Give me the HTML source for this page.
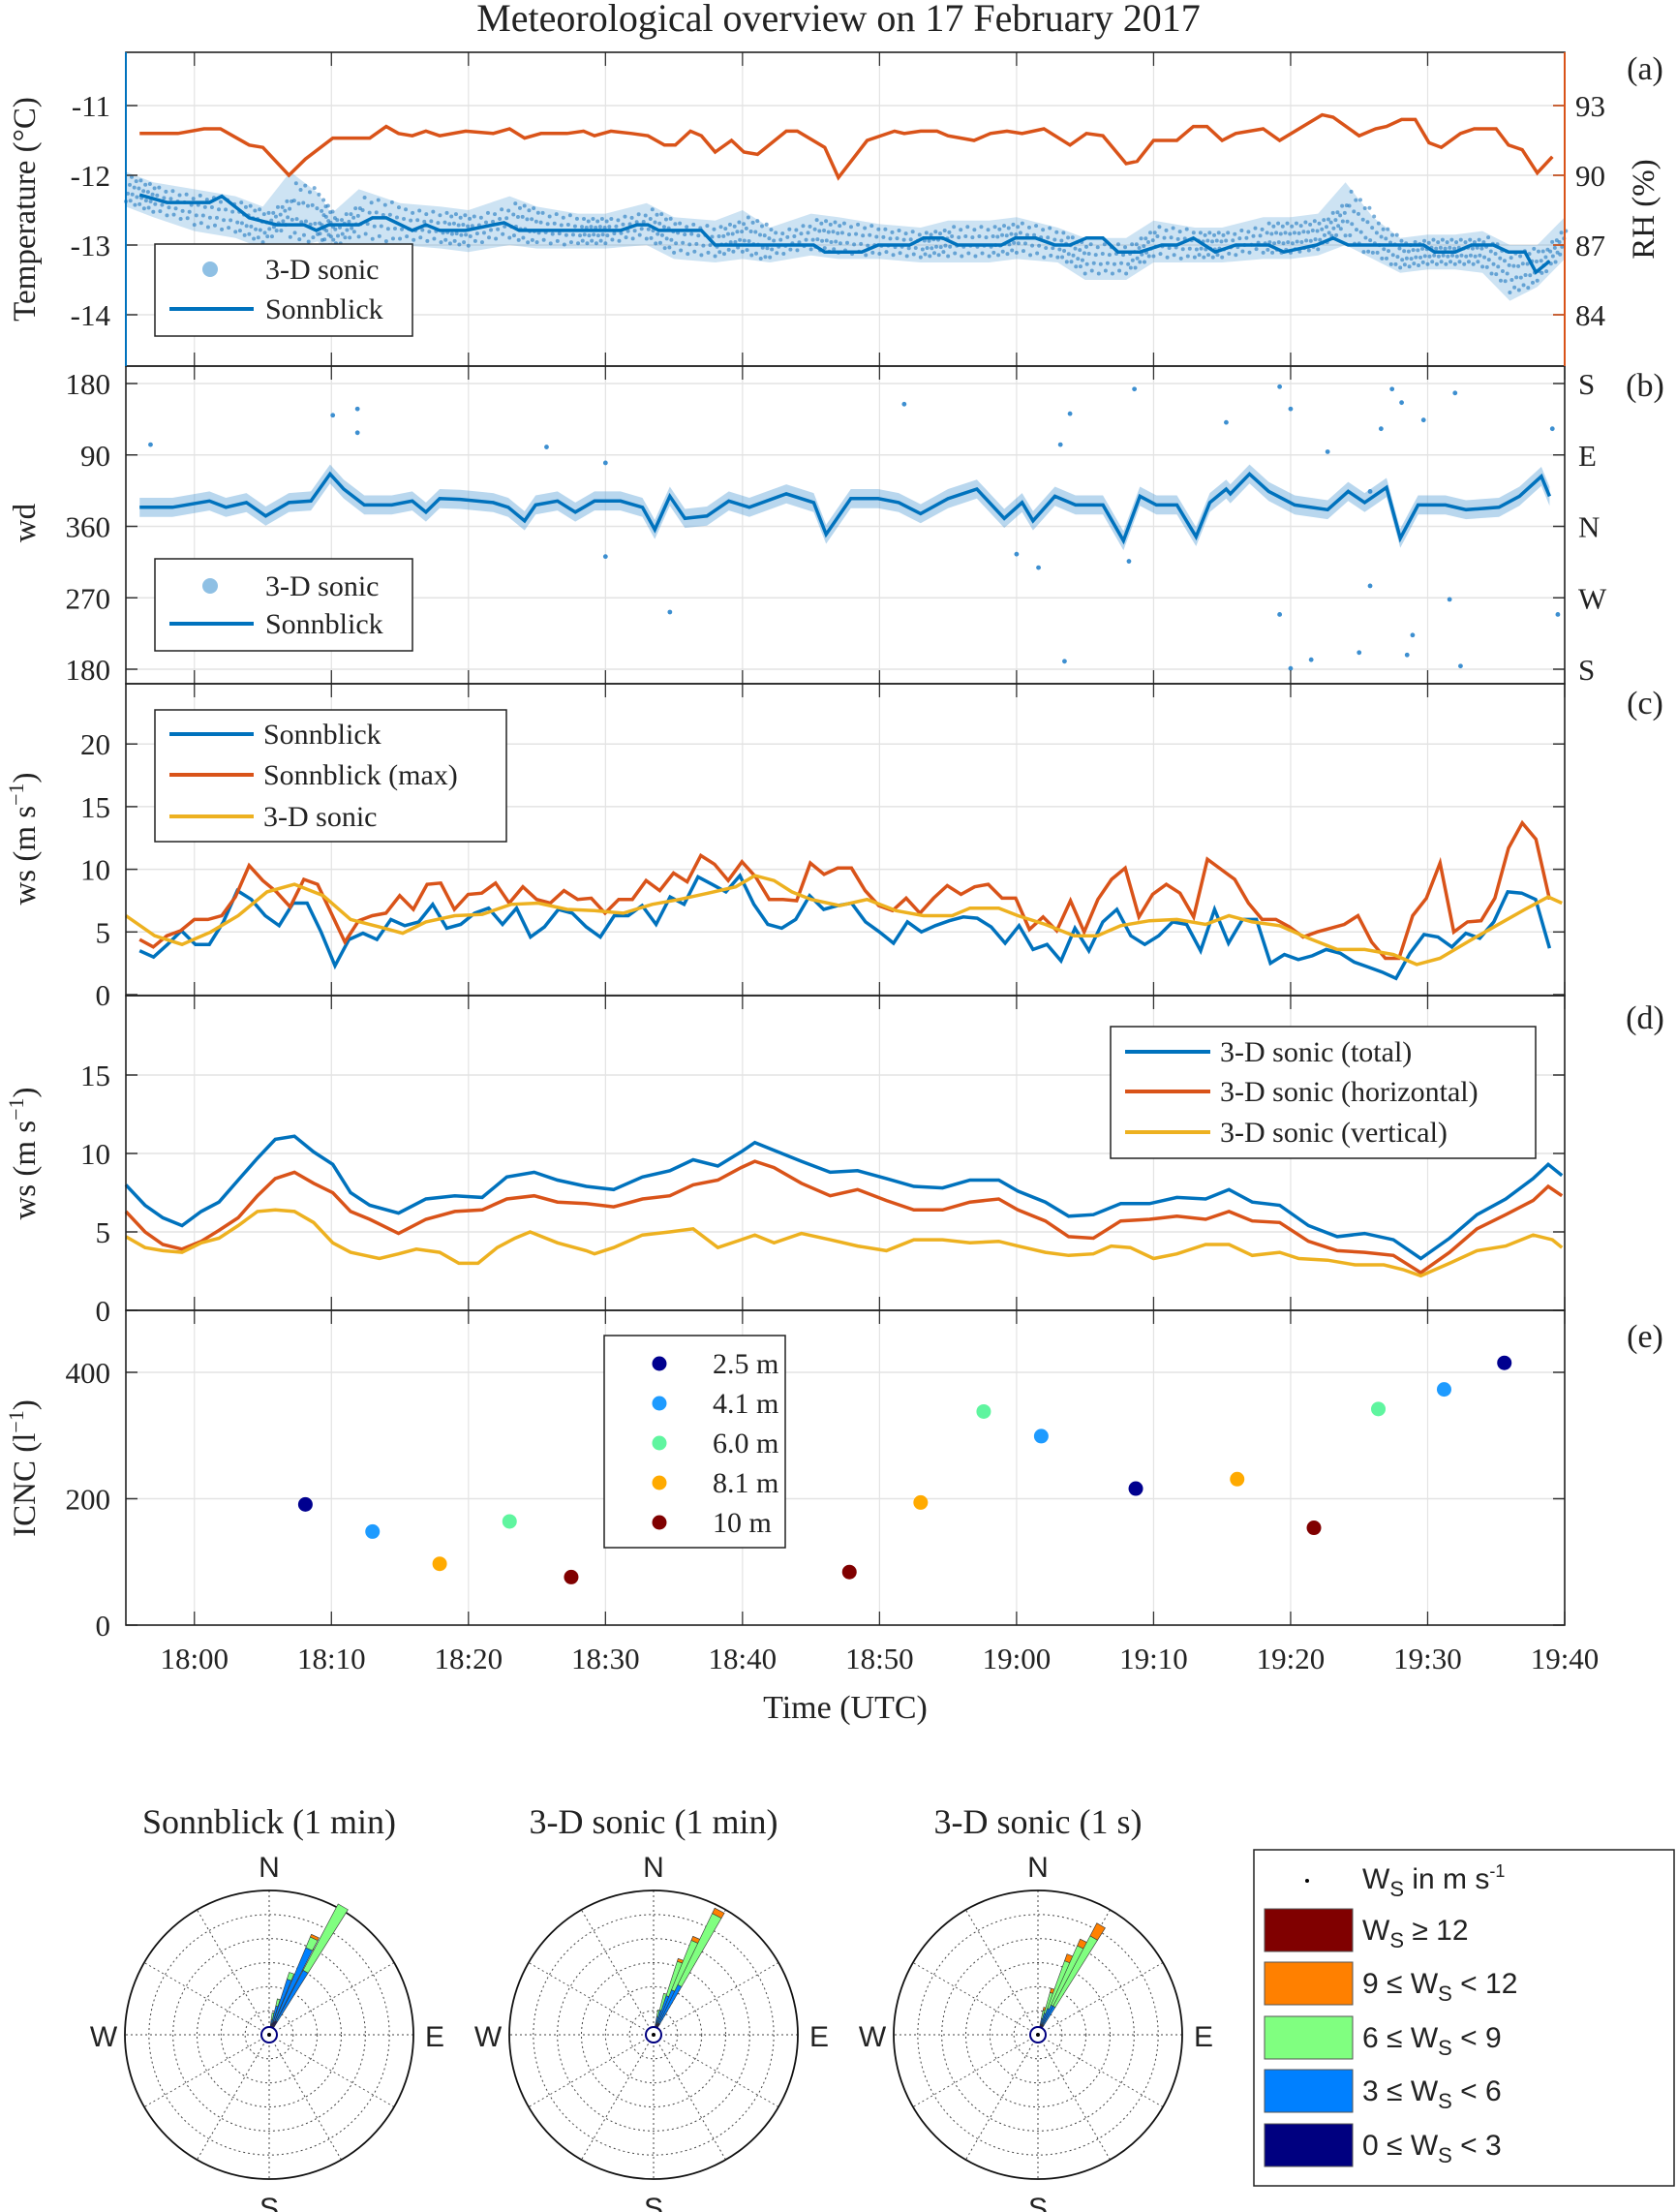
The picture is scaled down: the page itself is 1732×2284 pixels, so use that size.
<!DOCTYPE html>
<html><head><meta charset="utf-8">
<style>
html,body{margin:0;padding:0;background:#fff;}
svg{display:block;}
text{font-family:"Liberation Serif",serif;fill:#222;}
.sans{font-family:"Liberation Sans",sans-serif;}
</style></head>
<body>
<svg id="fig" width="1732" height="2284" viewBox="0 0 1732 2284" xmlns="http://www.w3.org/2000/svg">
<rect width="1732" height="2284" fill="#fff"/>
<text x="866" y="32" font-size="40" text-anchor="middle">Meteorological  overview  on 17 February 2017</text>
<g id="grid"></g>
<g id="marks"></g>
<g id="axes"></g>

<text x="1699" y="82" font-size="34" text-anchor="middle">(a)</text>
<text x="1699" y="409" font-size="34" text-anchor="middle">(b)</text>
<text x="1699" y="737" font-size="34" text-anchor="middle">(c)</text>
<text x="1699" y="1062" font-size="34" text-anchor="middle">(d)</text>
<text x="1699" y="1391" font-size="34" text-anchor="middle">(e)</text>

<text transform="translate(36,216) rotate(-90)" font-size="33" text-anchor="middle">Temperature (°C)</text>
<text transform="translate(1708,216) rotate(-90)" font-size="33" text-anchor="middle">RH (%)</text>
<text transform="translate(36,540) rotate(-90)" font-size="33" text-anchor="middle">wd</text>
<text transform="translate(36,866) rotate(-90)" font-size="33" text-anchor="middle">ws (m s<tspan dy="-12" font-size="22">−1</tspan><tspan dy="12">)</tspan></text>
<text transform="translate(36,1191) rotate(-90)" font-size="33" text-anchor="middle">ws (m s<tspan dy="-12" font-size="22">−1</tspan><tspan dy="12">)</tspan></text>
<text transform="translate(36,1516) rotate(-90)" font-size="33" text-anchor="middle">ICNC (l<tspan dy="-12" font-size="22">−1</tspan><tspan dy="12">)</tspan></text>
<text x="873" y="1774" font-size="34" text-anchor="middle">Time (UTC)</text>

<g>
<rect x="160" y="252" width="266" height="95" fill="#fff" stroke="#222" stroke-width="1.5"/>
<circle cx="217" cy="278" r="8" fill="#8fc0e4"/>
<text x="274" y="288" font-size="30">3-D sonic</text>
<line x1="175" y1="319" x2="262" y2="319" stroke="#0072BD" stroke-width="4"/>
<text x="274" y="329" font-size="30">Sonnblick</text>
</g>
<g>
<rect x="160" y="577" width="266" height="95" fill="#fff" stroke="#222" stroke-width="1.5"/>
<circle cx="217" cy="605" r="8" fill="#8fc0e4"/>
<text x="274" y="615" font-size="30">3-D sonic</text>
<line x1="175" y1="644" x2="262" y2="644" stroke="#0072BD" stroke-width="4"/>
<text x="274" y="654" font-size="30">Sonnblick</text>
</g>
<g>
<rect x="160" y="733" width="363" height="136" fill="#fff" stroke="#222" stroke-width="1.5"/>
<line x1="175" y1="758" x2="262" y2="758" stroke="#0072BD" stroke-width="4"/>
<text x="272" y="768" font-size="30">Sonnblick</text>
<line x1="175" y1="800" x2="262" y2="800" stroke="#D95319" stroke-width="4"/>
<text x="272" y="810" font-size="30">Sonnblick (max)</text>
<line x1="175" y1="843" x2="262" y2="843" stroke="#EDB120" stroke-width="4"/>
<text x="272" y="853" font-size="30">3-D sonic</text>
</g>
<g>
<rect x="1147" y="1060" width="439" height="136" fill="#fff" stroke="#222" stroke-width="1.5"/>
<line x1="1162" y1="1086" x2="1250" y2="1086" stroke="#0072BD" stroke-width="4"/>
<text x="1260" y="1096" font-size="30">3-D sonic (total)</text>
<line x1="1162" y1="1127" x2="1250" y2="1127" stroke="#D95319" stroke-width="4"/>
<text x="1260" y="1137" font-size="30">3-D sonic (horizontal)</text>
<line x1="1162" y1="1169" x2="1250" y2="1169" stroke="#EDB120" stroke-width="4"/>
<text x="1260" y="1179" font-size="30">3-D sonic (vertical)</text>
</g>
<g>
<rect x="624" y="1379" width="187" height="219" fill="#fff" stroke="#222" stroke-width="1.5"/>
<circle cx="681" cy="1408" r="7.5" fill="#00008F"/>
<text x="736" y="1418" font-size="30">2.5 m</text>
<circle cx="681" cy="1449" r="7.5" fill="#1E9BFF"/>
<text x="736" y="1459" font-size="30">4.1 m</text>
<circle cx="681" cy="1490" r="7.5" fill="#5FF59F"/>
<text x="736" y="1500" font-size="30">6.0 m</text>
<circle cx="681" cy="1531" r="7.5" fill="#FFAA00"/>
<text x="736" y="1541" font-size="30">8.1 m</text>
<circle cx="681" cy="1572" r="7.5" fill="#800000"/>
<text x="736" y="1582" font-size="30">10 m</text>
</g>

<text x="278" y="1893" font-size="36" text-anchor="middle">Sonnblick (1 min)</text>
<text x="675" y="1893" font-size="36" text-anchor="middle">3-D sonic (1 min)</text>
<text x="1072" y="1893" font-size="36" text-anchor="middle">3-D sonic (1 s)</text>
<g id="roses"></g>

<g>
<rect x="1295" y="1910" width="434" height="347" fill="#fff" stroke="#222" stroke-width="1.5"/>
<circle cx="1350" cy="1942" r="2" fill="#000"/>
<text class="sans" x="1407" y="1950" font-size="30">W<tspan dy="8" font-size="22">S</tspan><tspan dy="-8"> in m s</tspan><tspan dy="-12" font-size="18">-1</tspan></text>
<rect x="1306" y="1971" width="91" height="44" fill="#800000" stroke="#555"/>
<text class="sans" x="1407" y="2003" font-size="30">W<tspan dy="8" font-size="22">S</tspan><tspan dy="-8"> ≥ 12</tspan></text>
<rect x="1306" y="2026" width="91" height="44" fill="#FF8000" stroke="#555"/>
<text class="sans" x="1407" y="2058" font-size="30">9 ≤ W<tspan dy="8" font-size="22">S</tspan><tspan dy="-8"> &lt; 12</tspan></text>
<rect x="1306" y="2082" width="91" height="44" fill="#80FF80" stroke="#555"/>
<text class="sans" x="1407" y="2114" font-size="30">6 ≤ W<tspan dy="8" font-size="22">S</tspan><tspan dy="-8"> &lt; 9</tspan></text>
<rect x="1306" y="2137" width="91" height="44" fill="#0080FF" stroke="#555"/>
<text class="sans" x="1407" y="2169" font-size="30">3 ≤ W<tspan dy="8" font-size="22">S</tspan><tspan dy="-8"> &lt; 6</tspan></text>
<rect x="1306" y="2193" width="91" height="44" fill="#000080" stroke="#555"/>
<text class="sans" x="1407" y="2225" font-size="30">0 ≤ W<tspan dy="8" font-size="22">S</tspan><tspan dy="-8"> &lt; 3</tspan></text>
</g>
</svg>

<script>
const tickLabels = ["18:00","18:10","18:20","18:30","18:40","18:50","19:00","19:10","19:20","19:30","19:40"];
const tickTimes = [0,10,20,30,40,50,60,70,80,90,100];

const tempTicks = [-11,-12,-13,-14];
const rhTicks = [84,87,90,93];
const sbTempTime = [-4.0,-2.0,1.1,2.0,4.0,6.0,8.0,8.9,9.8,12.0,13.0,14.0,15.9,16.9,17.9,19.8,21.8,22.6,23.7,31.1,32.3,33.1,33.9,37.0,38.0,45.2,46.0,48.7,49.9,52.2,53.2,54.6,55.7,58.9,59.9,61.4,62.8,63.9,65.1,66.3,67.4,69.0,70.6,71.7,72.9,74.5,76.0,78.4,79.5,81.9,83.1,84.2,89.7,90.5,92.0,93.2,94.8,95.9,97.1,97.9,98.9];
const sbTemp = [-12.28,-12.39,-12.39,-12.30,-12.61,-12.71,-12.71,-12.79,-12.71,-12.71,-12.61,-12.61,-12.79,-12.71,-12.79,-12.79,-12.71,-12.68,-12.79,-12.79,-12.71,-12.71,-12.79,-12.79,-13.0,-13.0,-13.1,-13.1,-13.0,-13.0,-12.9,-12.9,-13.0,-13.0,-12.9,-12.9,-13.0,-13.0,-12.9,-12.9,-13.1,-13.1,-13.0,-13.0,-12.9,-13.1,-13.0,-13.0,-13.1,-13.0,-12.9,-13.0,-13.0,-13.1,-13.1,-13.0,-13.0,-13.1,-13.1,-13.39,-13.23];
const rhTime = [-4.0,-1.2,0.7,1.9,4.0,5.0,6.9,8.1,10.1,12.8,14.0,14.9,15.9,16.9,17.9,19.8,21.8,23.0,24.1,25.3,27.2,28.4,29.2,30.4,31.9,33.1,34.3,35.1,36.2,37.0,38.0,39.2,40.1,41.1,43.2,44.0,46.0,47.0,49.1,51.1,51.8,53.0,54.2,55.0,56.9,58.1,59.3,60.4,62.0,63.9,65.1,66.3,68.0,68.8,70.0,71.7,72.9,73.9,75.0,76.0,78.0,79.2,82.3,83.1,85.0,86.2,87.0,88.1,89.1,90.1,91.0,92.4,93.4,95.0,95.9,96.9,98.0,99.1];
const rhValues = [91.8,91.8,92.0,92.0,91.3,91.2,90.0,90.7,91.6,91.6,92.1,91.8,91.7,91.9,91.7,91.9,91.8,92.0,91.6,91.8,91.8,91.9,91.7,91.9,91.8,91.7,91.3,91.3,91.9,91.7,91.0,91.5,91.0,90.9,91.9,91.9,91.2,89.9,91.5,91.9,91.8,91.9,91.9,91.7,91.5,91.8,91.9,91.8,92.0,91.3,91.8,91.7,90.5,90.6,91.5,91.5,92.1,92.1,91.5,91.8,92.0,91.5,92.6,92.5,91.7,92.0,92.1,92.4,92.4,91.4,91.2,91.8,92.0,92.0,91.3,91.1,90.1,90.8];
const sonicTempTime = [-5,-3,0,3,5,7,9,10,12,15,18,20,23,25,28,30,33,35,38,40,42,45,47,50,53,55,58,60,63,65,68,70,73,75,78,80,82,84,86,88,90,92,94,96,98,100];
const sonicTemp = [-12.2,-12.35,-12.5,-12.6,-12.75,-12.5,-12.6,-12.85,-12.6,-12.7,-12.75,-12.8,-12.65,-12.75,-12.8,-12.8,-12.7,-12.9,-12.95,-12.85,-13.0,-12.85,-12.9,-12.95,-13.0,-12.95,-12.95,-12.9,-13.0,-13.2,-13.2,-12.95,-13.0,-13.0,-12.9,-12.9,-12.85,-12.55,-12.9,-13.15,-13.1,-13.1,-13.1,-13.4,-13.3,-12.9];
const sonicTempSpread = [0.25,0.25,0.3,0.3,0.3,0.55,0.35,0.3,0.4,0.3,0.3,0.3,0.35,0.3,0.25,0.25,0.3,0.3,0.3,0.35,0.25,0.3,0.3,0.25,0.25,0.3,0.3,0.3,0.25,0.3,0.3,0.3,0.25,0.25,0.3,0.3,0.3,0.45,0.3,0.25,0.25,0.25,0.3,0.4,0.3,0.3];

const dirTicks = [540,450,360,270,180];
const dirTickLabels = ["180","90","360","270","180"];
const dirLetters = ["S","E","N","W","S"];
const sbDirTime = [-4.0,-1.6,1.1,2.3,3.8,5.2,6.9,8.5,9.9,10.9,12.4,14.4,15.9,16.9,17.9,19.4,21.8,22.9,24.1,24.9,26.5,27.8,29.2,31.1,32.7,33.6,34.7,35.8,37.4,39.0,40.5,43.2,45.2,46.1,47.9,49.9,51.4,53.0,55.0,57.1,59.1,60.4,61.2,62.8,64.3,66.3,67.8,69.0,70.2,71.7,73.1,74.1,75.3,75.6,77.0,78.4,80.3,82.7,84.2,85.4,87.0,88.0,89.3,91.3,92.8,95.2,96.7,98.3,98.9];
const sbDir = [384,384,392,384,390,373,390,392,426,407,387,387,392,378,395,394,390,384,367,387,392,378,392,392,384,356,398,370,373,392,384,401,390,350,395,395,390,376,395,407,370,390,367,398,387,387,342,398,387,387,347,390,407,401,426,404,387,381,404,390,409,345,387,387,381,384,398,423,398];
const sonicDirOutT = [-3.2,10.1,11.9,11.9,25.7,30.0,30.0,34.7,51.8,60.0,61.6,63.2,63.5,63.9,68.2,68.6,75.3,79.2,79.2,80.0,80.0,81.5,82.7,85.0,85.8,85.8,86.6,87.4,88.1,88.5,88.9,89.7,91.6,92.0,92.4,99.1,99.5];
const sonicDirOutD = [463,500,508,478,460,440,322,252,514,325,308,463,190,502,316,533,491,536,249,508,181,192,454,201,285,404,483,533,516,198,223,494,268,528,184,483,249];

const cTicks = [0,5,10,15,20];
const sbWs = [3.5,3.0,4.0,5.1,4.0,4.0,5.8,8.3,7.6,6.3,5.5,7.3,7.3,5.0,2.3,4.4,4.9,4.4,6.0,5.5,5.8,7.2,5.3,5.6,6.5,6.9,5.6,6.9,4.6,5.4,6.8,6.5,5.4,4.6,6.3,6.3,7.1,5.6,7.8,7.2,9.4,8.8,8.2,9.5,7.2,5.6,5.3,6.0,7.9,6.8,7.1,7.3,5.8,5.0,4.1,5.8,5.0,5.5,5.9,6.2,6.1,5.4,4.1,5.5,3.6,4.0,2.7,5.3,3.5,5.8,6.8,4.7,4.0,4.7,5.8,5.6,3.5,6.8,4.1,6.0,6.0,2.5,3.2,2.8,3.1,3.6,3.3,2.6,2.2,1.8,1.3,3.3,4.8,4.6,3.8,4.9,4.5,5.8,8.2,8.1,7.6,3.7];
const sbWsMax = [4.4,3.8,4.7,5.1,6.0,6.0,6.3,7.8,10.3,9.1,8.2,7.0,9.2,8.8,6.5,4.2,5.9,6.3,6.5,7.9,6.8,8.8,8.9,6.8,8.0,8.1,8.9,7.3,8.6,7.6,7.3,8.3,7.6,7.7,6.5,7.6,7.6,9.1,8.3,9.7,9.0,11.1,10.4,9.1,10.6,9.4,7.6,7.6,7.5,10.5,9.6,10.1,10.1,8.3,7.1,6.7,7.7,6.5,7.7,8.7,8.0,8.6,8.8,7.7,7.7,5.2,6.2,5.1,7.5,5.0,7.6,9.2,10.1,6.2,8.0,8.8,8.1,6.2,10.8,10.0,9.2,7.3,6.0,6.0,5.4,4.6,5.0,5.3,5.6,6.3,4.2,2.9,2.9,6.3,7.7,10.5,5.0,5.8,5.9,7.7,11.7,13.7,12.4,7.6];
const sbWsStart = -4, sbWsEnd = 98.9;
const sonicWsTime = [-5.0,-2.9,-0.9,1.2,3.2,5.3,7.3,9.4,11.4,13.5,15.2,16.9,19.0,21.0,23.1,25.1,27.2,29.2,31.3,33.4,35.4,37.5,39.5,40.9,42.3,43.6,45.0,47.1,49.1,51.2,53.2,55.3,56.6,58.7,60.1,62.1,64.2,65.9,67.6,69.7,71.7,73.8,75.5,77.2,79.2,81.3,83.4,85.4,87.5,89.2,90.9,92.9,95.0,97.1,98.8,99.8];
const sonicWs = [6.3,4.7,4.0,5.0,6.3,8.2,8.8,7.9,6.0,5.4,4.9,5.8,6.3,6.4,7.2,7.3,6.8,6.7,6.5,7.2,7.6,8.1,8.6,9.5,9.1,8.2,7.6,7.1,7.6,6.7,6.3,6.3,6.9,6.9,6.3,5.6,4.7,4.7,5.5,5.9,6.0,5.6,6.3,5.8,5.5,4.5,3.6,3.6,3.2,2.4,2.9,4.2,5.5,6.8,7.8,7.3];

const dTicks = [0,5,10,15];
const dTime = [-5.0,-3.6,-2.3,-0.9,0.5,1.8,3.2,4.6,5.9,7.3,8.7,10.1,11.4,12.8,14.9,16.9,19.0,21.0,22.8,24.8,26.5,28.6,30.6,32.7,34.7,36.4,38.2,39.9,40.9,42.3,44.3,46.4,48.4,50.5,52.5,54.6,56.6,58.7,60.1,62.1,63.8,65.6,67.6,69.7,71.7,73.8,75.5,77.2,79.2,81.3,83.4,85.4,87.5,89.5,91.6,93.6,95.7,97.7,98.8,99.8];
const wsTotal = [8.0,6.7,5.9,5.4,6.3,6.9,8.3,9.7,10.9,11.1,10.1,9.3,7.5,6.7,6.2,7.1,7.3,7.2,8.5,8.8,8.3,7.9,7.7,8.5,8.9,9.6,9.2,10.1,10.7,10.2,9.5,8.8,8.9,8.4,7.9,7.8,8.3,8.3,7.6,6.9,6.0,6.1,6.8,6.8,7.2,7.1,7.7,6.9,6.7,5.4,4.7,4.9,4.5,3.3,4.6,6.1,7.1,8.4,9.3,8.6];
const wsHoriz = [6.3,5.0,4.2,3.9,4.4,5.1,5.9,7.3,8.4,8.8,8.1,7.5,6.3,5.8,4.9,5.8,6.3,6.4,7.1,7.3,6.9,6.8,6.6,7.1,7.3,8.0,8.3,9.1,9.5,9.1,8.1,7.3,7.7,7.0,6.4,6.4,6.9,7.1,6.4,5.7,4.7,4.6,5.7,5.8,6.0,5.8,6.3,5.7,5.6,4.4,3.8,3.7,3.5,2.4,3.7,5.2,6.1,7.0,7.9,7.3];
const vTime = [-5.0,-3.6,-2.3,-0.9,0.5,1.8,3.2,4.6,5.9,7.3,8.7,10.1,11.4,13.5,14.9,16.2,17.9,19.3,20.7,22.1,23.4,24.5,26.5,28.6,29.2,30.6,32.7,34.7,36.4,38.2,39.9,40.9,42.3,44.3,46.4,48.4,50.5,52.5,54.6,56.6,58.7,60.1,62.1,63.8,65.6,66.9,68.3,70.0,71.7,73.8,75.5,77.2,79.2,80.6,82.7,84.7,86.8,88.2,89.5,91.6,93.6,95.7,97.7,99.1,99.8];
const wsVert = [4.7,4.0,3.8,3.7,4.3,4.6,5.4,6.3,6.4,6.3,5.6,4.3,3.7,3.3,3.6,3.9,3.7,3.0,3.0,4.0,4.6,5.0,4.3,3.8,3.6,4.0,4.8,5.0,5.2,4.0,4.5,4.8,4.3,4.9,4.5,4.1,3.8,4.5,4.5,4.3,4.4,4.1,3.7,3.5,3.6,4.1,4.0,3.3,3.6,4.2,4.2,3.5,3.7,3.3,3.2,2.9,2.9,2.6,2.2,3.0,3.8,4.1,4.8,4.5,4.0];

const eTicks = [0,200,400];
const icncTime = [8.1,13.0,17.9,23.0,27.5,47.8,53.0,57.6,61.8,68.7,76.1,81.7,86.4,91.2,95.6];
const icncValue = [191,148,97,164,76,84,194,338,299,216,231,154,342,373,415];
const icncHeight = ["2.5","4.1","8.1","6.0","10","10","8.1","6.0","4.1","2.5","8.1","10","6.0","4.1","2.5"];
const heightColors = {"2.5":"#00008F","4.1":"#1E9BFF","6.0":"#5FF59F","8.1":"#FFAA00","10":"#800000"};

const roseDirs1 = [10,15,20,25,30];
const rose1Calm = [0.02,0.03,0.04,0.05,0.05];
const rose1Low = [0.03,0.12,0.31,0.55,0.40];
const rose1Mid = [0.05,0.05,0.05,0.08,0.52];
const rose1High = [0,0,0,0.02,0];
const roseDirs2 = [12,16,20,24,28];
const rose2Calm = [0.02,0.02,0.03,0.03,0.03];
const rose2Low = [0.05,0.10,0.20,0.25,0.30];
const rose2Mid = [0.05,0.12,0.25,0.37,0.55];
const rose2High = [0,0,0.02,0.03,0.04];
const roseDirs3 = [14,18,22,26,30];
const rose3Calm = [0.02,0.02,0.02,0.02,0.02];
const rose3Low = [0.04,0.08,0.12,0.15,0.15];
const rose3Mid = [0.06,0.15,0.35,0.45,0.55];
const rose3High = [0.02,0.03,0.05,0.05,0.1];

const NS = "http://www.w3.org/2000/svg";
const X0 = 130, X1 = 1616, TMIN = -5, TMAX = 100;
const xs = t => X0 + (t - TMIN) / (TMAX - TMIN) * (X1 - X0);
const panels = [
  {id:"a", top:54, bot:378},
  {id:"b", top:378, bot:706},
  {id:"c", top:706, bot:1028},
  {id:"d", top:1028, bot:1353},
  {id:"e", top:1353, bot:1678}
];
const yT = v => 109 + (-11 - v) * 72;
const yRH = v => 109 + (93 - v) * 24;
const yD = v => 691 - (v - 180) / 360 * 295;
const yC = v => 1027 - v * 12.94;
const yDd = v => 1353 - v * 16.2;
const yE = v => 1678 - v * 0.6525;

const gGrid = document.getElementById("grid");
const gMarks = document.getElementById("marks");
const gAxes = document.getElementById("axes");
function mk(tag, attrs, parent){
  const e = document.createElementNS(NS, tag);
  for (const k in attrs) e.setAttribute(k, attrs[k]);
  parent.appendChild(e);
  return e;
}
function pathOf(ts, vs, yf){
  return ts.map((t,i)=> (i?"L":"M") + xs(t).toFixed(1) + "," + yf(vs[i]).toFixed(1)).join("");
}

panels.forEach(p=>{
  tickTimes.forEach(t=>{
    const l = mk("line",{x1:xs(t),x2:xs(t),y1:p.top,y2:p.bot,stroke:"#e3e3e3","stroke-width":1.2},gGrid);
    
    
    const a = mk("line",{x1:xs(t),x2:xs(t),y1:p.top,y2:p.top+14,stroke:"#333","stroke-width":1.3},gAxes);
    
    
    const b = mk("line",{x1:xs(t),x2:xs(t),y1:p.bot-14,y2:p.bot,stroke:"#333","stroke-width":1.3},gAxes);
    
    
  });
});
function yTicks(vals, yf, labels, color){
  vals.forEach((v,i)=>{
    const y = yf(v);
    const g = mk("line",{x1:X0,x2:X1,y1:y,y2:y,stroke:"#e3e3e3","stroke-width":1.5},gGrid);
    
    
    const t1 = mk("line",{x1:X0,x2:X0+12,y1:y,y2:y,stroke:"#333","stroke-width":1.5},gAxes);
    
    
    const t2 = mk("line",{x1:X1-12,x2:X1,y1:y,y2:y,stroke:"#333","stroke-width":1.5},gAxes);
    
    
    const tx = mk("text",{x:114,y:y+11,"font-size":31,"text-anchor":"end",fill:color},gAxes);
    tx.textContent = labels[i];
    
    
  });
}
yTicks(tempTicks, yT, tempTicks.map(String), "#0072BD");
rhTicks.forEach(v=>{
  const y = yRH(v);
  const tk = mk("line",{x1:X1-12,x2:X1,y1:y,y2:y,stroke:"#D95319","stroke-width":1.5},gAxes);
  
  
  const tx = mk("text",{x:1627,y:y+11,"font-size":31,fill:"#D95319"},gAxes);
  tx.textContent = String(v);
  
  
});
yTicks(dirTicks, yD, dirTickLabels, "#222");
dirTicks.forEach((v,i)=>{
  const tx = mk("text",{x:1630,y:yD(v)+11,"font-size":31},gAxes);
  tx.textContent = dirLetters[i];
  
  
});
yTicks(cTicks, yC, cTicks.map(String), "#222");
yTicks(dTicks, yDd, dTicks.map(String), "#222");
yTicks(eTicks, yE, eTicks.map(String), "#222");

panels.forEach(p=>{
  const r = mk("rect",{x:X0,y:p.top,width:X1-X0,height:p.bot-p.top,fill:"none",stroke:"#222","stroke-width":1.6},gAxes);
  
  
});
const la = mk("line",{x1:X0,x2:X0,y1:54,y2:378,stroke:"#0072BD","stroke-width":2},gAxes);


const ra = mk("line",{x1:X1,x2:X1,y1:54,y2:378,stroke:"#D95319","stroke-width":2},gAxes);


tickTimes.forEach((t,i)=>{
  const tx = mk("text",{x:xs(t),y:1723,"font-size":31,"text-anchor":"middle"},gAxes);
  tx.textContent = tickLabels[i];
  
  
});

// panel a
{
  const up = sonicTempTime.map((t,i)=> xs(t).toFixed(1)+","+yT(sonicTemp[i]+sonicTempSpread[i]).toFixed(1));
  const dn = sonicTempTime.map((t,i)=> xs(t).toFixed(1)+","+yT(sonicTemp[i]-sonicTempSpread[i]).toFixed(1)).reverse();
  const band = mk("polygon",{points:up.concat(dn).join(" "),fill:"#5aa2d8","fill-opacity":0.3},gMarks);
  
  
  for (let i=0;i<sonicTempTime.length-1;i++){
    for (let s=0;s<6;s++){
      const f = s/6;
      const t = sonicTempTime[i] + f*(sonicTempTime[i+1]-sonicTempTime[i]);
      const v = sonicTemp[i] + f*(sonicTemp[i+1]-sonicTemp[i]);
      const sp = sonicTempSpread[i];
      [-0.7,-0.25,0.25,0.7].forEach((k,m)=>{
        const c = mk("circle",{cx:xs(t)+m*2,cy:yT(v+k*sp*((s%2)?0.8:1)),r:2,fill:"#1f78c0","fill-opacity":0.6},gMarks);
        
        
      });
    }
  }
  const tl = mk("path",{d:pathOf(sbTempTime,sbTemp,yT),fill:"none",stroke:"#0072BD","stroke-width":3.5},gMarks);
  
  
  const rh = mk("path",{d:pathOf(rhTime,rhValues,yRH),fill:"none",stroke:"#D95319","stroke-width":3.5},gMarks);
  
  
}
// panel b
{
  const up = sbDirTime.map((t,i)=> xs(t).toFixed(1)+","+yD(sbDir[i]+12).toFixed(1));
  const dn = sbDirTime.map((t,i)=> xs(t).toFixed(1)+","+yD(sbDir[i]-12).toFixed(1)).reverse();
  const band = mk("polygon",{points:up.concat(dn).join(" "),fill:"#4f9ad4","fill-opacity":0.4},gMarks);
  
  
  sonicDirOutT.forEach((t,i)=>{
    const c = mk("circle",{cx:xs(t),cy:yD(sonicDirOutD[i]),r:2.4,fill:"#3d8fd0"},gMarks);
    
    
  });
  const l = mk("path",{d:pathOf(sbDirTime,sbDir,yD),fill:"none",stroke:"#0072BD","stroke-width":3.5},gMarks);
  
  
}
// panel c
{
  const tA = sbWs.map((v,i)=> sbWsStart + i*(sbWsEnd-sbWsStart)/(sbWs.length-1));
  const tB = sbWsMax.map((v,i)=> sbWsStart + i*(sbWsEnd-sbWsStart)/(sbWsMax.length-1));
  const a = mk("path",{d:pathOf(tA,sbWs,yC),fill:"none",stroke:"#0072BD","stroke-width":3.5},gMarks);
  
  
  const b = mk("path",{d:pathOf(tB,sbWsMax,yC),fill:"none",stroke:"#D95319","stroke-width":3.5},gMarks);
  
  
  const c = mk("path",{d:pathOf(sonicWsTime,sonicWs,yC),fill:"none",stroke:"#EDB120","stroke-width":3.5},gMarks);
  
  
}
// panel d
{
  const a = mk("path",{d:pathOf(dTime,wsTotal,yDd),fill:"none",stroke:"#0072BD","stroke-width":3.5},gMarks);
  
  
  const b = mk("path",{d:pathOf(dTime,wsHoriz,yDd),fill:"none",stroke:"#D95319","stroke-width":3.5},gMarks);
  
  
  const c = mk("path",{d:pathOf(vTime,wsVert,yDd),fill:"none",stroke:"#EDB120","stroke-width":3.5},gMarks);
  
  
}
// panel e
icncTime.forEach((t,i)=>{
  const c = mk("circle",{cx:xs(t),cy:yE(icncValue[i]),r:7.5,fill:heightColors[icncHeight[i]]},gMarks);
  
  
});

// wind roses
const gR = document.getElementById("roses");
const roseCenters = [278,675,1072], RC_Y = 2101, RR = 149;
const roseSets = [
  [roseDirs1, rose1Calm, rose1Low, rose1Mid, rose1High],
  [roseDirs2, rose2Calm, rose2Low, rose2Mid, rose2High],
  [roseDirs3, rose3Calm, rose3Low, rose3Mid, rose3High]
];
const classColors = ["#000080","#0080FF","#80FF80","#FF8000"];
function pt(cx, ang, r){ const a = ang*Math.PI/180; return [cx + r*Math.sin(a), RC_Y - r*Math.cos(a)]; }
roseCenters.forEach((cx,ri)=>{
  const g = mk("g",{},gR);
  
  
  for (let k=1;k<=5;k++){
    const c = mk("circle",{cx:cx,cy:RC_Y,r:RR*k/6,fill:"none",stroke:"#444","stroke-width":1,"stroke-dasharray":"2,3"},g);
    
    
  }
  for (let a=0;a<180;a+=30){
    const p1 = pt(cx,a,RR), p2 = pt(cx,a+180,RR);
    const l = mk("line",{x1:p1[0],y1:p1[1],x2:p2[0],y2:p2[1],stroke:"#444","stroke-width":1,"stroke-dasharray":"2,3"},g);
    
    
  }
  const oc = mk("circle",{cx:cx,cy:RC_Y,r:RR,fill:"none",stroke:"#111","stroke-width":1.8},g);
  
  
  const set = roseSets[ri];
  const dirs = set[0];
  dirs.forEach((d,j)=>{
    let r0 = 0.055;
    for (let c=0;c<4;c++){
      const len = set[c+1][j];
      if (len<=0) continue;
      const r1 = r0+len;
      const a1 = d-2.2, a2 = d+2.2;
      const q = [pt(cx,a1,RR*r0),pt(cx,a1,RR*r1),pt(cx,a2,RR*r1),pt(cx,a2,RR*r0)];
      const poly = mk("polygon",{points:q.map(p=>p[0].toFixed(1)+","+p[1].toFixed(1)).join(" "),fill:classColors[c],stroke:"#333","stroke-width":0.6},g);
      
      
      r0 = r1;
    }
  });
  const hole = mk("circle",{cx:cx,cy:RC_Y,r:8,fill:"#fff",stroke:"#000080","stroke-width":2},g);
  
  
  const dot = mk("circle",{cx:cx,cy:RC_Y,r:2,fill:"#000"},g);
  
  
  [["N",cx,RC_Y-RR-14],["S",cx,RC_Y+RR+40],["W",cx-RR-22,RC_Y+12],["E",cx+RR+22,RC_Y+12]].forEach(L=>{
    const t = mk("text",{x:L[1],y:L[2],"font-size":30,"text-anchor":"middle",class:"sans"},g);
    t.textContent = L[0];
    
    
  });
});
</script>
</body></html>
